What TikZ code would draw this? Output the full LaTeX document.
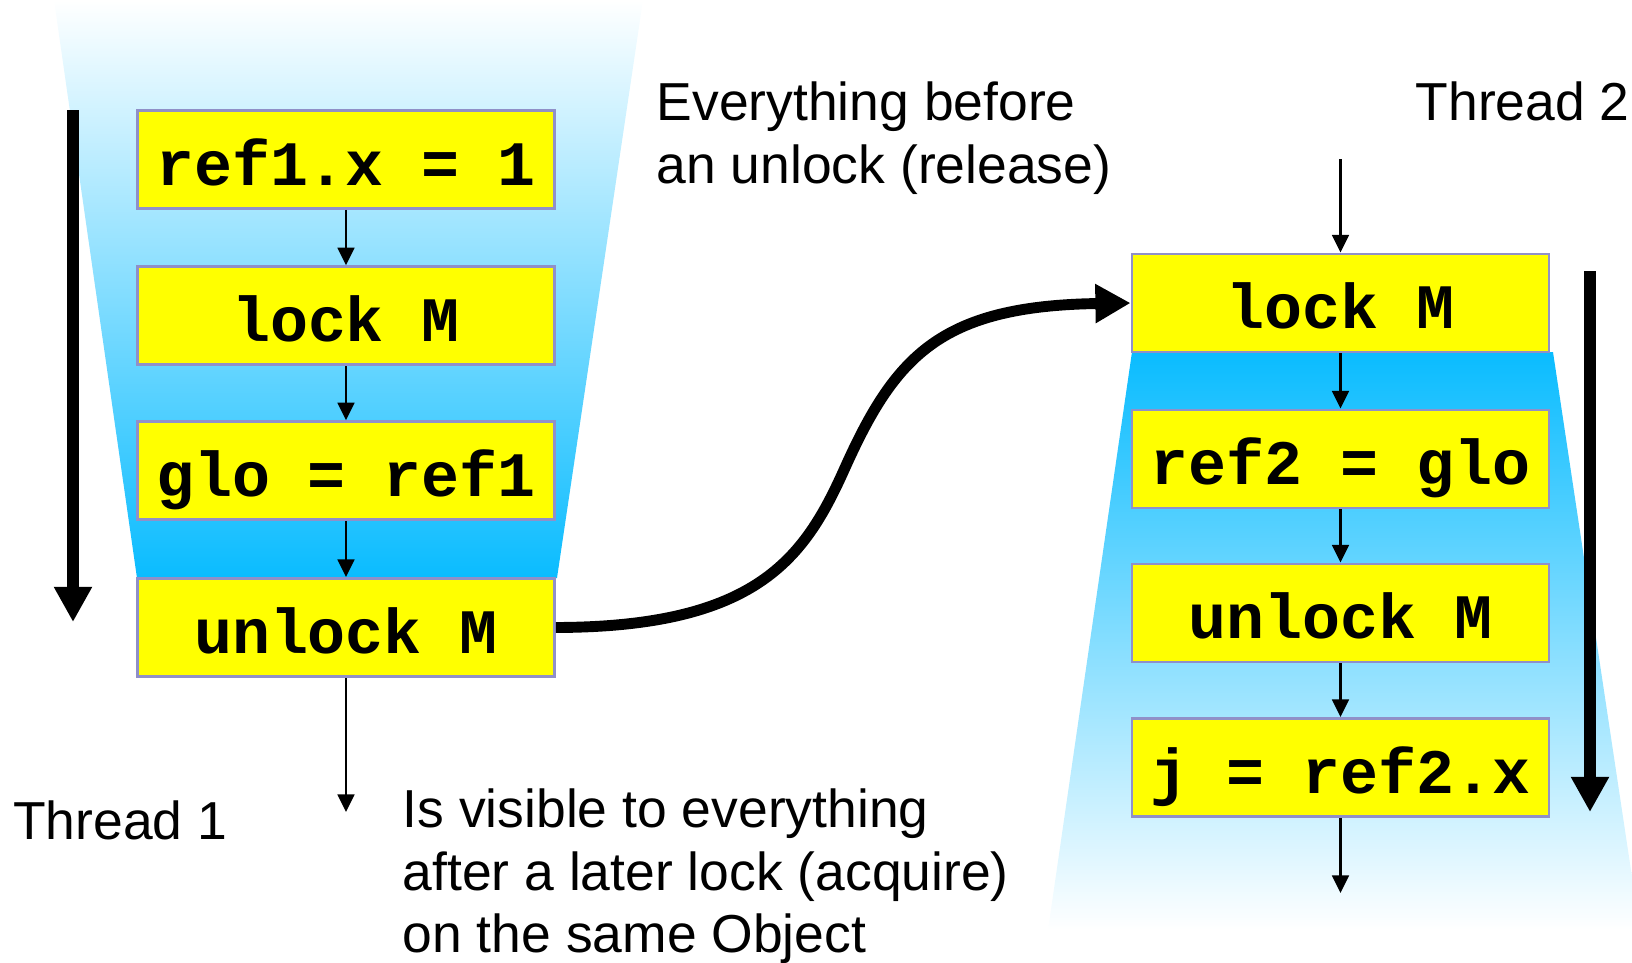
\documentclass[tikz,border=0pt]{standalone}
\usepackage{fontspec}
\setmainfont{Liberation Sans}
\newfontfamily\codefont{Liberation Mono}
\usetikzlibrary{arrows.meta}
\definecolor{boxyellow}{HTML}{FFFF00}
\definecolor{boxborder}{HTML}{9090C8}
\definecolor{funcyan}{HTML}{0ABCFF}
\tikzset{
  stmt/.style={draw=boxborder, line width=0.8pt, fill=boxyellow, minimum width=118.6pt,
    minimum height=27.9pt, inner sep=0pt, text height=14.6pt, text depth=0pt,
    font=\codefont\bfseries\fontsize{18pt}{20pt}\selectfont},
  flow/.style={line width=0.6pt, -{Triangle[length=5pt,width=4.8pt]}},
  timearrow/.style={line width=3.4pt, -{Triangle[length=10pt,width=10.2pt]}},
  sync/.style={line width=3.1pt, -{Triangle[length=10pt,width=10.5pt]}},
  label/.style={inner sep=0pt, align=left, font=\fontsize{15.2pt}{17.8pt}\selectfont},
}
\begin{document}
\begin{tikzpicture}[x=0.01cm,y=-0.01cm]
\useasboundingbox (0,0) rectangle (1632,963);
% funnels
\shade[top color=white, bottom color=funcyan] (54,0) -- (643,0) -- (557,578) -- (137,578) -- cycle;
\shade[top color=funcyan, bottom color=white] (1132,352) -- (1553,352) -- (1640,930) -- (1048,930) -- cycle;
% thread 1
\node[stmt] (a1) at (346,159.5) {ref1.x = 1};
\node[stmt] (a2) at (346,315.75) {lock M};
\node[stmt] (a3) at (346,470.75) {glo = ref1};
\node[stmt] (a4) at (346,627.5) {unlock M};
\coordinate (a5) at (346,812);
\draw[flow] (a1) -- (a2);
\draw[flow] (a2) -- (a3);
\draw[flow] (a3) -- (a4);
\draw[flow] (a4) -- (a5);
% thread 2
\coordinate (b0) at (1340.5,159);
\node[stmt] (b1) at (1340.5,303) {lock M};
\node[stmt] (b2) at (1340.5,459) {ref2 = glo};
\node[stmt] (b3) at (1340.5,613) {unlock M};
\node[stmt] (b4) at (1340.5,767.5) {j = ref2.x};
\coordinate (b5) at (1340.5,893);
\draw[flow] (b0) -- (b1);
\draw[flow] (b1) -- (b2);
\draw[flow] (b2) -- (b3);
\draw[flow] (b3) -- (b4);
\draw[flow] (b4) -- (b5);
% time arrows
\coordinate (t1s) at (73,110);
\coordinate (t1e) at (73,622);
\draw[timearrow] (t1s) -- (t1e);
\coordinate (t2s) at (1590,271);
\coordinate (t2e) at (1590,812);
\draw[timearrow] (t2s) -- (t2e);
% synchronisation curve
\coordinate (mid) at (844,470);
\draw[sync] (a4.east) .. controls (756,627) and (804,559) .. (mid)
  .. controls (895,356) and (940,306) .. (b1.west);
% labels
\node[label, anchor=north west] (before) at (656,81) {Everything before\\an unlock (release)};
\node[label, anchor=north west] (after) at (402,788) {Is visible to everything\\after a later lock (acquire)\\on the same Object};
\node[label, anchor=base west] (th2) at (1415,120) {Thread 2};
\node[label, anchor=base west] (th1) at (12.5,839) {Thread 1};
\end{tikzpicture}
\end{document}
